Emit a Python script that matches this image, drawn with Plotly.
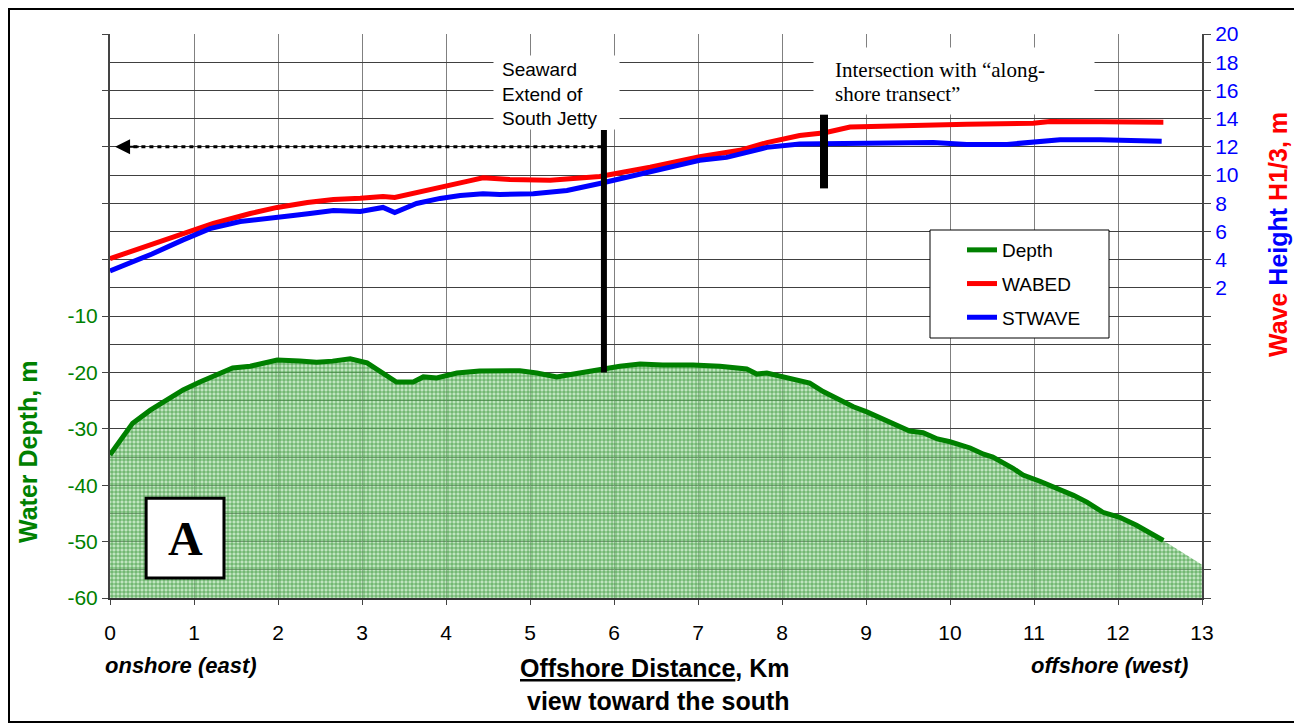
import plotly.graph_objects as go

# ---------------- data ----------------
depth_x = [0, 0.12, 0.27, 0.48, 0.68, 0.87, 1.07, 1.27, 1.46, 1.67, 1.87, 1.99, 2.26, 2.46, 2.65,
           2.86, 3.06, 3.23, 3.41, 3.61, 3.73, 3.89, 4.13, 4.40, 4.68, 4.88, 5.08, 5.32, 5.52,
           5.68, 5.83, 6.07, 6.31, 6.58, 6.94, 7.26, 7.58, 7.70, 7.82, 8.06, 8.33, 8.49, 8.85,
           9.01, 9.33, 9.52, 9.68, 9.85, 10.0, 10.24, 10.4, 10.51, 10.75, 10.87, 11.07, 11.27,
           11.47, 11.63, 11.82, 12.02, 12.22, 12.54]
depth = [-34.6, -32.0, -29.0, -26.7, -24.9, -23.1, -21.7, -20.5, -19.2, -18.9, -18.3, -17.8, -18.0,
         -18.2, -18.0, -17.6, -18.3, -19.9, -21.7, -21.7, -20.8, -21.0, -20.1, -19.75, -19.6,
         -19.7, -20.1, -20.8, -20.3, -19.9, -19.4, -18.9, -18.5, -18.7, -18.7, -18.9, -19.4,
         -20.3, -20.1, -21.0, -21.9, -23.4, -26.1, -27.0, -29.0, -30.4, -30.7, -31.8, -32.3,
         -33.4, -34.5, -35.0, -37.0, -38.2, -39.3, -40.5, -41.8, -43.0, -44.8, -45.7, -47.1,
         -49.8]
# shaded area continues to the end of the axis
depth_fill_end_x = 13.0
depth_fill_end = -54.1
depth_floor = -60

wabed_x = [0, 0.5, 0.99, 1.23, 1.67, 1.99, 2.35, 2.66, 2.98, 3.25, 3.39, 3.65, 3.96, 4.25, 4.44,
           4.76, 5.24, 5.83, 6.43, 7.02, 7.5, 7.82, 8.21, 8.51, 8.81, 9.4, 10.2, 10.99, 11.19,
           11.8, 12.54]
wabed = [4.07, 5.05, 6.06, 6.56, 7.27, 7.7, 8.05, 8.26, 8.35, 8.48, 8.4, 8.77, 9.19, 9.55, 9.8,
         9.68, 9.62, 9.9, 10.55, 11.3, 11.75, 12.3, 12.8, 13.0, 13.4, 13.5, 13.6, 13.67, 13.8,
         13.77, 13.75]

stwave_x = [0, 0.5, 0.87, 1.19, 1.55, 1.99, 2.18, 2.38, 2.66, 2.98, 3.25, 3.39, 3.65, 3.93, 4.17,
            4.44, 4.64, 5.04, 5.44, 5.83, 6.23, 6.63, 7.02, 7.34, 7.82, 8.21, 8.81, 9.8, 10.2,
            10.68, 11.31, 11.79, 12.52]
stwave = [3.2, 4.4, 5.4, 6.2, 6.7, 7.06, 7.13, 7.27, 7.48, 7.41, 7.7, 7.34, 7.98, 8.34, 8.55,
          8.67, 8.62, 8.67, 8.9, 9.4, 9.97, 10.55, 11.04, 11.25, 11.96, 12.2, 12.24, 12.3, 12.17,
          12.17, 12.5, 12.5, 12.4]

x_ticks = list(range(0, 14))
depth_ticks = list(range(-60, 41, 10))
depth_ticktext = [str(v) if v <= -10 else "" for v in depth_ticks]
wave_ticks = list(range(-20, 21, 2))
wave_ticktext = [str(v) if v >= 2 else "" for v in wave_ticks]

jetty_x = 5.88
jetty_depth_range = [-20, 23]
transect_x = 8.5
transect_wave_range = [9.05, 14.3]
arrow_level = 12
arrow_from, arrow_to = 5.85, 0.06

SANS = "Liberation Sans"
SERIF = "Liberation Serif"
GREEN = "#008000"

# plot area in page pixels (page body has an 8px offset)
PX_L, PX_R, PX_T, PX_B = 110, 1202, 34, 598


def px(xp):
    return (xp - PX_L) / (PX_R - PX_L)


def py(yp):
    return (PX_B - yp) / (PX_B - PX_T)


fig = go.Figure()

fig.add_trace(go.Scatter(x=[0, depth_fill_end_x], y=[depth_floor, depth_floor], mode="lines",
                         line=dict(width=0), showlegend=False, hoverinfo="skip", yaxis="y",
                         legendgroup="z"))
fig.add_trace(go.Scatter(x=depth_x + [depth_fill_end_x], y=depth + [depth_fill_end],
                         mode="lines", line=dict(width=0), fill="tonexty",
                         fillcolor="rgba(130,200,130,0.6)",
                         fillpattern=dict(shape="+", fgcolor="#2f8f2f",
                                          bgcolor="rgba(150,212,150,0.6)",
                                          size=4, solidity=0.3, fillmode="replace"),
                         showlegend=False, hoverinfo="skip", yaxis="y", legendgroup="z"))
fig.add_trace(go.Scatter(x=depth_x, y=depth, mode="lines", name="Depth",
                         line=dict(color=GREEN, width=5), yaxis="y", legendgroup="a"))
fig.add_trace(go.Scatter(x=wabed_x, y=wabed, mode="lines", name="WABED",
                         line=dict(color="#ff0000", width=5), yaxis="y2", legendgroup="b"))
fig.add_trace(go.Scatter(x=stwave_x, y=stwave, mode="lines", name="STWAVE",
                         line=dict(color="#0000ff", width=5), yaxis="y2", legendgroup="c"))

fig.update_layout(
    width=1294, height=717,
    margin=dict(l=PX_L - 8, r=1302 - PX_R, t=PX_T - 8, b=725 - PX_B),
    paper_bgcolor="white", plot_bgcolor="white",
    font=dict(family=SANS, color="black"),
    xaxis=dict(range=[0, 13], tickvals=x_ticks, ticks="outside", ticklen=5, tickcolor="#444",
               showgrid=True, gridcolor="#808080", gridwidth=1, zeroline=False,
               showline=True, linecolor="#333", linewidth=2,
               tickfont=dict(size=21, color="black"), ticklabelstandoff=10),
    yaxis=dict(range=[-60, 40], tickvals=depth_ticks, ticktext=depth_ticktext, ticks="outside",
               ticklen=6, tickcolor="#444", showgrid=False, zeroline=False, showline=True,
               linecolor="#444", linewidth=2, tickfont=dict(size=21, color=GREEN)),
    yaxis2=dict(range=[-20, 20], tickvals=wave_ticks, ticktext=wave_ticktext, overlaying="y",
                side="right", ticks="outside", ticklen=7, tickcolor="#444", showgrid=True,
                gridcolor="#404040", gridwidth=1, zeroline=False, showline=True,
                linecolor="#444", linewidth=2, tickfont=dict(size=21, color="#0000ff")),
    legend=dict(x=px(962), y=py(231), xanchor="left", yanchor="top",
                bgcolor="rgba(0,0,0,0)", borderwidth=0, font=dict(size=19, family=SANS),
                tracegroupgap=6, traceorder="grouped"),
)

shapes = [
    # legend box
    dict(type="rect", xref="paper", yref="paper", x0=px(930), x1=px(1109), y0=py(338), y1=py(230),
         fillcolor="white", line=dict(color="black", width=1), layer="above"),
    # jetty and transect markers
    dict(type="line", xref="x", yref="y", x0=jetty_x, x1=jetty_x,
         y0=jetty_depth_range[0], y1=jetty_depth_range[1], line=dict(color="black", width=6)),
    dict(type="line", xref="x", yref="y2", x0=transect_x, x1=transect_x,
         y0=transect_wave_range[0], y1=transect_wave_range[1], line=dict(color="black", width=8)),
    # dotted arrow shaft
    dict(type="line", xref="x", yref="y2", x0=arrow_from, x1=arrow_to + 0.15,
         y0=arrow_level, y1=arrow_level, line=dict(color="black", width=3, dash="4px,4px")),
    # "A" label box
    dict(type="rect", xref="x", yref="y", x0=0.43, x1=1.357, y0=-56.45, y1=-42.3,
         fillcolor="white", line=dict(color="black", width=3), layer="above"),
    # outer frame
    dict(type="rect", xref="paper", yref="paper", x0=px(9), x1=px(1298), y0=py(722), y1=py(9),
         line=dict(color="black", width=2), fillcolor="rgba(0,0,0,0)"),
]
fig.update_layout(shapes=shapes)

ann = [
    # white text-box backgrounds
    dict(x=px(493), y=py(55), xref="paper", yref="paper", xanchor="left", yanchor="top",
         text=" ", showarrow=False, width=125, height=73, bgcolor="white", borderpad=0),
    dict(x=px(813), y=py(47), xref="paper", yref="paper", xanchor="left", yanchor="top",
         text=" ", showarrow=False, width=280, height=66, bgcolor="white", borderpad=0),
    dict(x=arrow_to, y=arrow_level, xref="x", yref="y2", ax=arrow_to + 0.3, ay=arrow_level,
         axref="x", ayref="y2", text="", showarrow=True, arrowhead=2, arrowsize=1.5,
         arrowwidth=2, arrowcolor="black"),
    dict(x=4.64, y=15.73, xref="x", yref="y2", xanchor="left", yanchor="middle", align="left",
         text="Seaward<br>Extend of<br>South Jetty", showarrow=False,
         font=dict(family=SANS, size=19, color="black")),
    dict(x=8.607, y=17.44, xref="x", yref="y2", xanchor="left", yanchor="middle", align="left",
         text="Intersection with \u201calong-", showarrow=False,
         font=dict(family=SERIF, size=21, color="black")),
    dict(x=8.607, y=15.73, xref="x", yref="y2", xanchor="left", yanchor="middle", align="left",
         text="shore transect\u201d", showarrow=False,
         font=dict(family=SERIF, size=21, color="black")),
    dict(x=0.893, y=-49.4, xref="x", yref="y", text="<b>A</b>", showarrow=False,
         font=dict(family=SERIF, size=48, color="black")),
    dict(x=px(28), y=py(452), xref="paper", yref="paper", xanchor="center", yanchor="middle",
         textangle=-90, showarrow=False,
         text="<b>Water Depth, m</b>", font=dict(family=SANS, size=25, color=GREEN)),
    dict(x=px(1278), y=py(235), xref="paper", yref="paper", xanchor="center", yanchor="middle",
         textangle=-90, showarrow=False,
         text="<b><span style='color:#ff0000'>Wave</span> <span style='color:#0000ff'>Height</span>"
              " <span style='color:#ff0000'>H1/3, m</span></b>",
         font=dict(family=SANS, size=25)),
    dict(x=px(103), y=py(665), xref="paper", yref="paper", xanchor="left",
         yanchor="middle", showarrow=False, text="<b><i>onshore (east)</i></b>",
         font=dict(family=SANS, size=22, color="black")),
    dict(x=px(1190), y=py(665), xref="paper", yref="paper", xanchor="right",
         yanchor="middle", showarrow=False, text="<b><i>offshore (west)</i></b>",
         font=dict(family=SANS, size=22, color="black")),
    dict(x=px(655), y=py(668), xref="paper", yref="paper", xanchor="center",
         yanchor="middle", showarrow=False, text="<b><u>Offshore Distance</u>, Km</b>",
         font=dict(family=SANS, size=25, color="black")),
    dict(x=px(658), y=py(701), xref="paper", yref="paper", xanchor="center",
         yanchor="middle", showarrow=False, text="<b>view toward the south</b>",
         font=dict(family=SANS, size=25, color="black")),
]
fig.update_layout(annotations=ann)

fig.write_html("out.html")
